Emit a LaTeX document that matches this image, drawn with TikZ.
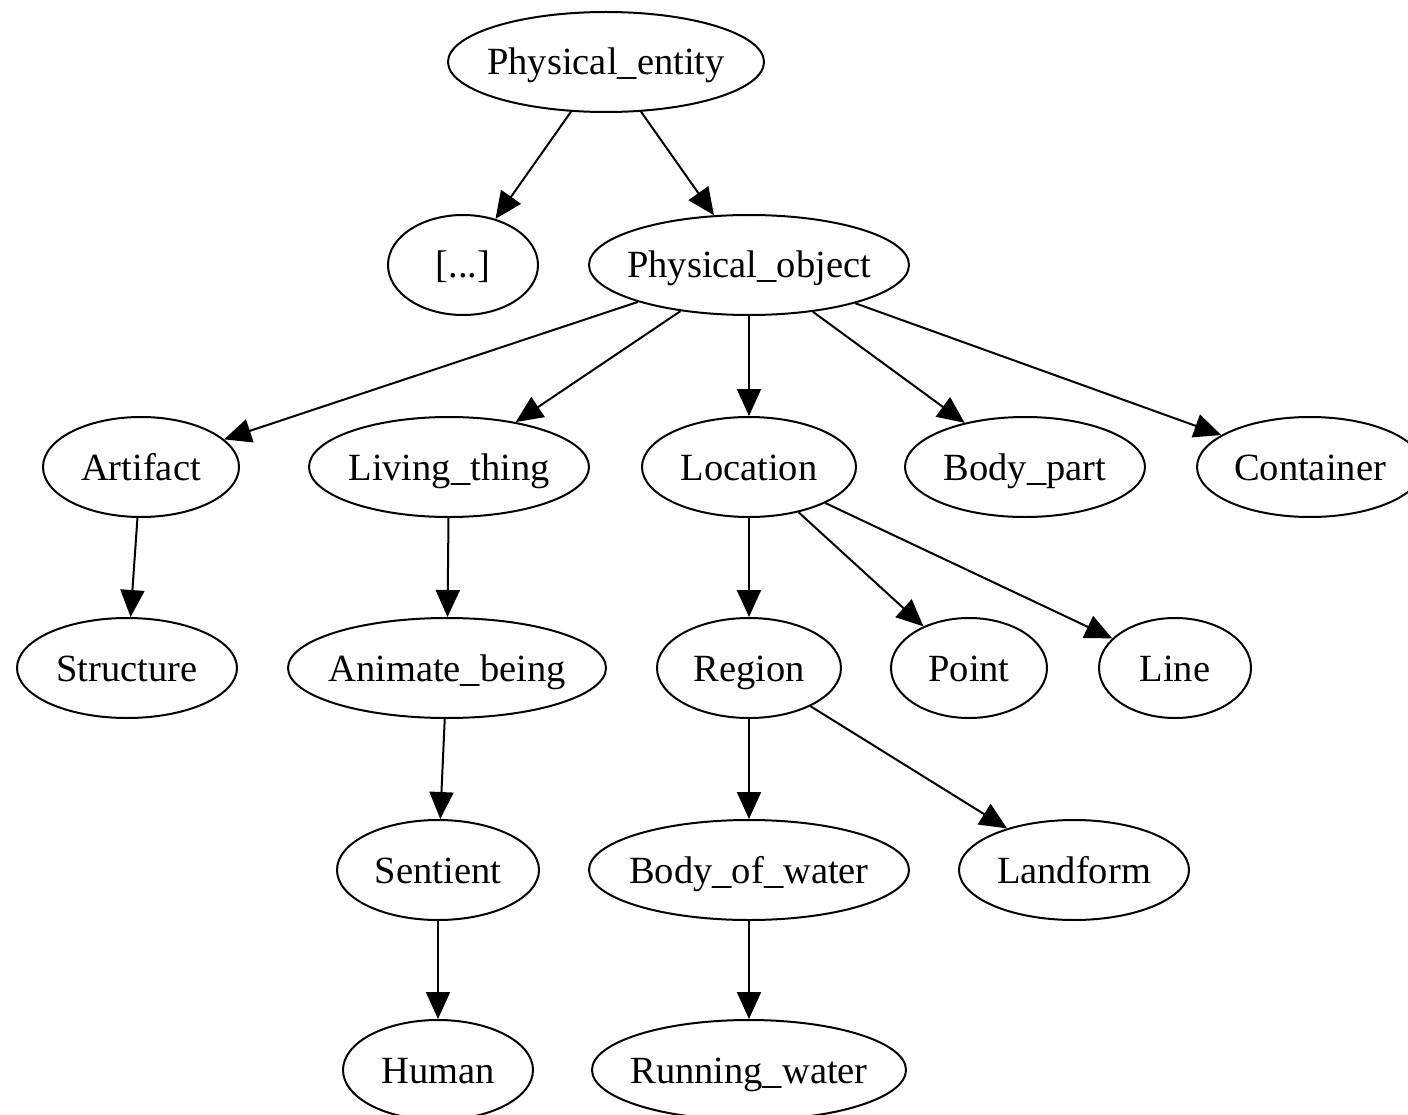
\documentclass[tikz,border=0pt]{standalone}
\usepackage{fontspec}
\setmainfont{Liberation Serif}
\usetikzlibrary{shapes.geometric,arrows.meta}
\newcommand\zwtext[1]{\makebox[0pt]{#1}}
\begin{document}
\begin{tikzpicture}[x=1pt,y=-1pt,
  nd/.style={ellipse,draw,line width=2pt,inner sep=0pt,minimum height=100pt,
    text height=26pt,text depth=0pt,
    font=\fontsize{38.5}{46}\selectfont},
  ed/.style={line width=2pt,-{Triangle[length=27pt,width=24pt]}}]
\useasboundingbox (0,0) rectangle (1408,1115);
\clip (0,0) rectangle (1408,1115);
\fill[white] (0,0) rectangle (1408,1115);
\node[nd,minimum width=316pt] (pe) at (606,62) {\zwtext{Physical\_entity}};
\node[nd,minimum width=150pt] (dots) at (463,265) {\zwtext{[...]}};
\node[nd,minimum width=320pt] (po) at (749,265) {\zwtext{Physical\_object}};
\node[nd,minimum width=196pt] (art) at (141,467) {\zwtext{Artifact}};
\node[nd,minimum width=280pt] (liv) at (449,467) {\zwtext{Living\_thing}};
\node[nd,minimum width=214pt] (loc) at (749,467) {\zwtext{Location}};
\node[nd,minimum width=240pt] (bp) at (1025,467) {\zwtext{Body\_part}};
\node[nd,minimum width=226pt] (cont) at (1310,467) {\zwtext{Container}};
\node[nd,minimum width=220pt] (str) at (127,668) {\zwtext{Structure}};
\node[nd,minimum width=318pt] (ani) at (447,668) {\zwtext{Animate\_being}};
\node[nd,minimum width=184pt] (reg) at (749,668) {\zwtext{Region}};
\node[nd,minimum width=156pt] (pt) at (969,668) {\zwtext{Point}};
\node[nd,minimum width=152pt] (line) at (1175,668) {\zwtext{Line}};
\node[nd,minimum width=202pt] (sen) at (438,870) {\zwtext{Sentient}};
\node[nd,minimum width=320pt] (bow) at (749,870) {\zwtext{Body\_of\_water}};
\node[nd,minimum width=230pt] (land) at (1074,870) {\zwtext{Landform}};
\node[nd,minimum width=190pt] (hum) at (438,1070) {\zwtext{Human}};
\node[nd,minimum width=314pt] (rw) at (749,1070) {\zwtext{Running\_water}};
\draw[ed] (pe) -- (dots);
\draw[ed] (pe) -- (po);
\draw[ed] (po) -- (art);
\draw[ed] (po) -- (liv);
\draw[ed] (po) -- (loc);
\draw[ed] (po) -- (bp);
\draw[ed] (po) -- (cont);
\draw[ed] (art) -- (str);
\draw[ed] (liv) -- (ani);
\draw[ed] (loc) -- (reg);
\draw[ed] (loc) -- (pt);
\draw[ed] (loc) -- (line);
\draw[ed] (ani) -- (sen);
\draw[ed] (reg) -- (bow);
\draw[ed] (reg) -- (land);
\draw[ed] (sen) -- (hum);
\draw[ed] (bow) -- (rw);
\end{tikzpicture}
\end{document}
